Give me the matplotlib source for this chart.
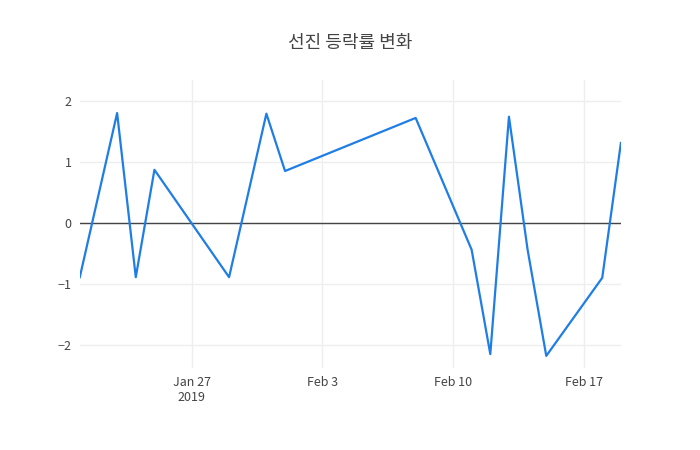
import matplotlib
matplotlib.use('Agg')
import matplotlib.pyplot as plt
import numpy as np

plt.rcParams['font.family'] = ['Noto Sans CJK KR', 'DejaVu Sans']

fechas = ['2019-01-21', '2019-01-23', '2019-01-24', '2019-01-25', '2019-01-29',
          '2019-01-31', '2019-02-01', '2019-02-08', '2019-02-11', '2019-02-12',
          '2019-02-13', '2019-02-14', '2019-02-15', '2019-02-18', '2019-02-19']
valores = [-0.89, 1.80, -0.89, 0.87, -0.89, 1.79, 0.85, 1.72, -0.44, -2.15,
           1.74, -0.44, -2.18, -0.90, 1.31]
titulo = '선진 등락률 변화'

x = np.array(fechas, dtype='datetime64[D]')

fig = plt.figure(figsize=(7, 4.5), dpi=100)
ax = fig.add_axes([0.114, 0.182, 0.773, 0.64])
ax.plot(x, valores, color='#1f7de6', lw=1.6, zorder=3)
ax.axhline(0, color='#444444', lw=1, zorder=2)
ax.set_xlim(x[0], x[-1])
ax.set_ylim(-2.38, 2.34)
ax.set_yticks([-2, -1, 0, 1, 2])
ax.set_yticklabels(['−2', '−1', '0', '1', '2'])
ticks = np.array(['2019-01-27', '2019-02-03', '2019-02-10', '2019-02-17'], dtype='datetime64[D]')
ax.set_xticks(ticks)
ax.set_xticklabels(['Jan 27\n2019', 'Feb 3', 'Feb 10', 'Feb 17'], va='top')
ax.grid(True, color='#eeeeee', lw=1)
for s in ax.spines.values():
    s.set_visible(False)
ax.tick_params(length=0, labelsize=9, colors='#444444', pad=6)
fig.suptitle(titulo, y=0.925, fontsize=13, color='#444444')
fig.savefig('out.png')
